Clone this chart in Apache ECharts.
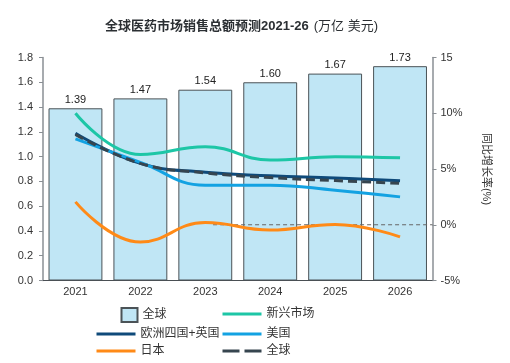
<!DOCTYPE html>
<html>
<head>
<meta charset="utf-8">
<script src="https://cdn.jsdelivr.net/npm/echarts@6/dist/echarts.min.js"></script>
<style>html,body{margin:0;padding:0;background:#fff;}#c{width:510px;height:363px;}</style>
</head>
<body>
<div id="c"></div>
<script>
const years = ['2021','2022','2023','2024','2025','2026'];
const globalSales = [1.39, 1.47, 1.54, 1.60, 1.67, 1.73];
const emerging = [10.0, 6.3, 7.0, 5.8, 6.1, 6.0];
const europe = [8.2, 5.5, 4.7, 4.4, 4.2, 3.95];
const us = [7.7, 5.6, 3.55, 3.55, 3.1, 2.5];
const japan = [2.05, -1.55, 0.2, -0.48, 0.03, -1.08];
const globalGrowth = [8.1, 5.5, 4.65, 4.23, 3.96, 3.72];
const zeroRef = [[2.62, 0], [6, 0]];
const leftTicks = [0, 1.8, 0.2];
const rightTicks = [-5, 15, 5];

const FONT = 'Liberation Sans, Arial, Noto Sans CJK SC, sans-serif';
const C = {teal:'#1dc6a6', navy:'#0f4a7a', blue:'#13a2e2', orange:'#ff8a17', dash:'#36454f'};

const chart = echarts.init(document.getElementById('c'));
function lineSeries(name, data, color, dashed) {
  return {
    name: name, type: 'line', xAxisIndex: 0, yAxisIndex: 1, data: data,
    smooth: 0.45, symbol: 'none', z: 5,
    lineStyle: {color: color, width: 3, type: dashed ? [9, 5] : 'solid'},
    itemStyle: {color: color}
  };
}
function leg(name, left, top, icon, w, h, label) {
  return {
    data: [{name: name, icon: icon}], left: left, top: top, itemWidth: w, itemHeight: h,
    padding: 0, textStyle: {fontSize: 12, color: '#333', fontFamily: FONT},
    formatter: label ? function(){return label;} : undefined, selectedMode: false
  };
}
chart.setOption({
  animation: false,
  textStyle: {fontFamily: FONT},
  title: {
    text: '{b|全球医药市场销售总额预测2021-26} {n|(万亿 美元)}',
    left: 105, top: 17, padding: 0,
    textStyle: {fontWeight: 'normal', rich: {
      b: {fontSize: 13, fontWeight: 'bold', color: '#2b2f33', fontFamily: FONT},
      n: {fontSize: 13, fontWeight: 'normal', color: '#2b2f33', fontFamily: FONT}
    }}
  },
  grid: {left: 43, right: 77.5, top: 57.5, bottom: 82.5},
  legend: [
    leg('全球', 120.5, 307, 'rect', 16, 14),
    leg('新兴市场', 222.5, 308, 'rect', 39, 3),
    leg('欧洲四国+英国', 96.5, 328, 'rect', 39, 3),
    leg('美国', 222.5, 328, 'rect', 39, 3),
    leg('日本', 96.5, 345, 'rect', 39, 3),
    leg('全球增长', 222.5, 345, 'path://M0,0h17v3h-17z M22,0h17v3h-17z', 39, 3, '全球')
  ],
  xAxis: [
    {type: 'category', data: years,
     axisLine: {lineStyle: {color: '#4a4f54', width: 1}},
     axisTick: {show: false},
     axisLabel: {color: '#333', fontSize: 11, margin: 6}},
    {type: 'value', min: 0, max: 6, show: false}
  ],
  yAxis: [
    {type: 'value', min: leftTicks[0], max: leftTicks[1], interval: leftTicks[2],
     axisLine: {show: true, lineStyle: {color: '#8a8f94', width: 1.5}},
     axisTick: {show: true, length: 4, lineStyle: {color: '#8a8f94'}},
     splitLine: {show: false},
     axisLabel: {color: '#333', fontSize: 11, margin: 10, formatter: v => v.toFixed(1)}},
    {type: 'value', min: rightTicks[0], max: rightTicks[1], interval: rightTicks[2], position: 'right',
     axisLine: {show: true, lineStyle: {color: '#8a8f94', width: 1.5}},
     axisTick: {show: true, length: 4, lineStyle: {color: '#8a8f94'}},
     splitLine: {show: false},
     axisLabel: {color: '#333', fontSize: 11, margin: 8, formatter: v => v === 15 ? '15' : v + '%'},
     name: '同比增长率(%)', nameLocation: 'middle', nameRotate: -90, nameGap: 48,
     nameTextStyle: {color: '#333', fontSize: 11, fontFamily: FONT}}
  ],
  series: [
    {name: '全球', type: 'bar', data: globalSales, barCategoryGap: '17%', z: 2,
     itemStyle: {color: '#c0e6f5', borderColor: '#4b5357', borderWidth: 1},
     label: {show: true, position: 'top', distance: 3, color: '#222', fontSize: 11,
             formatter: p => p.value.toFixed(2)}},
    lineSeries('新兴市场', emerging, C.teal),
    lineSeries('欧洲四国+英国', europe, C.navy),
    lineSeries('美国', us, C.blue),
    lineSeries('日本', japan, C.orange),
    lineSeries('全球增长', globalGrowth, C.dash, true),
    {name: 'zero', type: 'line', xAxisIndex: 1, yAxisIndex: 1, data: zeroRef, symbol: 'none', z: 3,
     lineStyle: {color: '#666', width: 1, type: [4, 3]}, silent: true}
  ]
});
</script>
</body>
</html>
